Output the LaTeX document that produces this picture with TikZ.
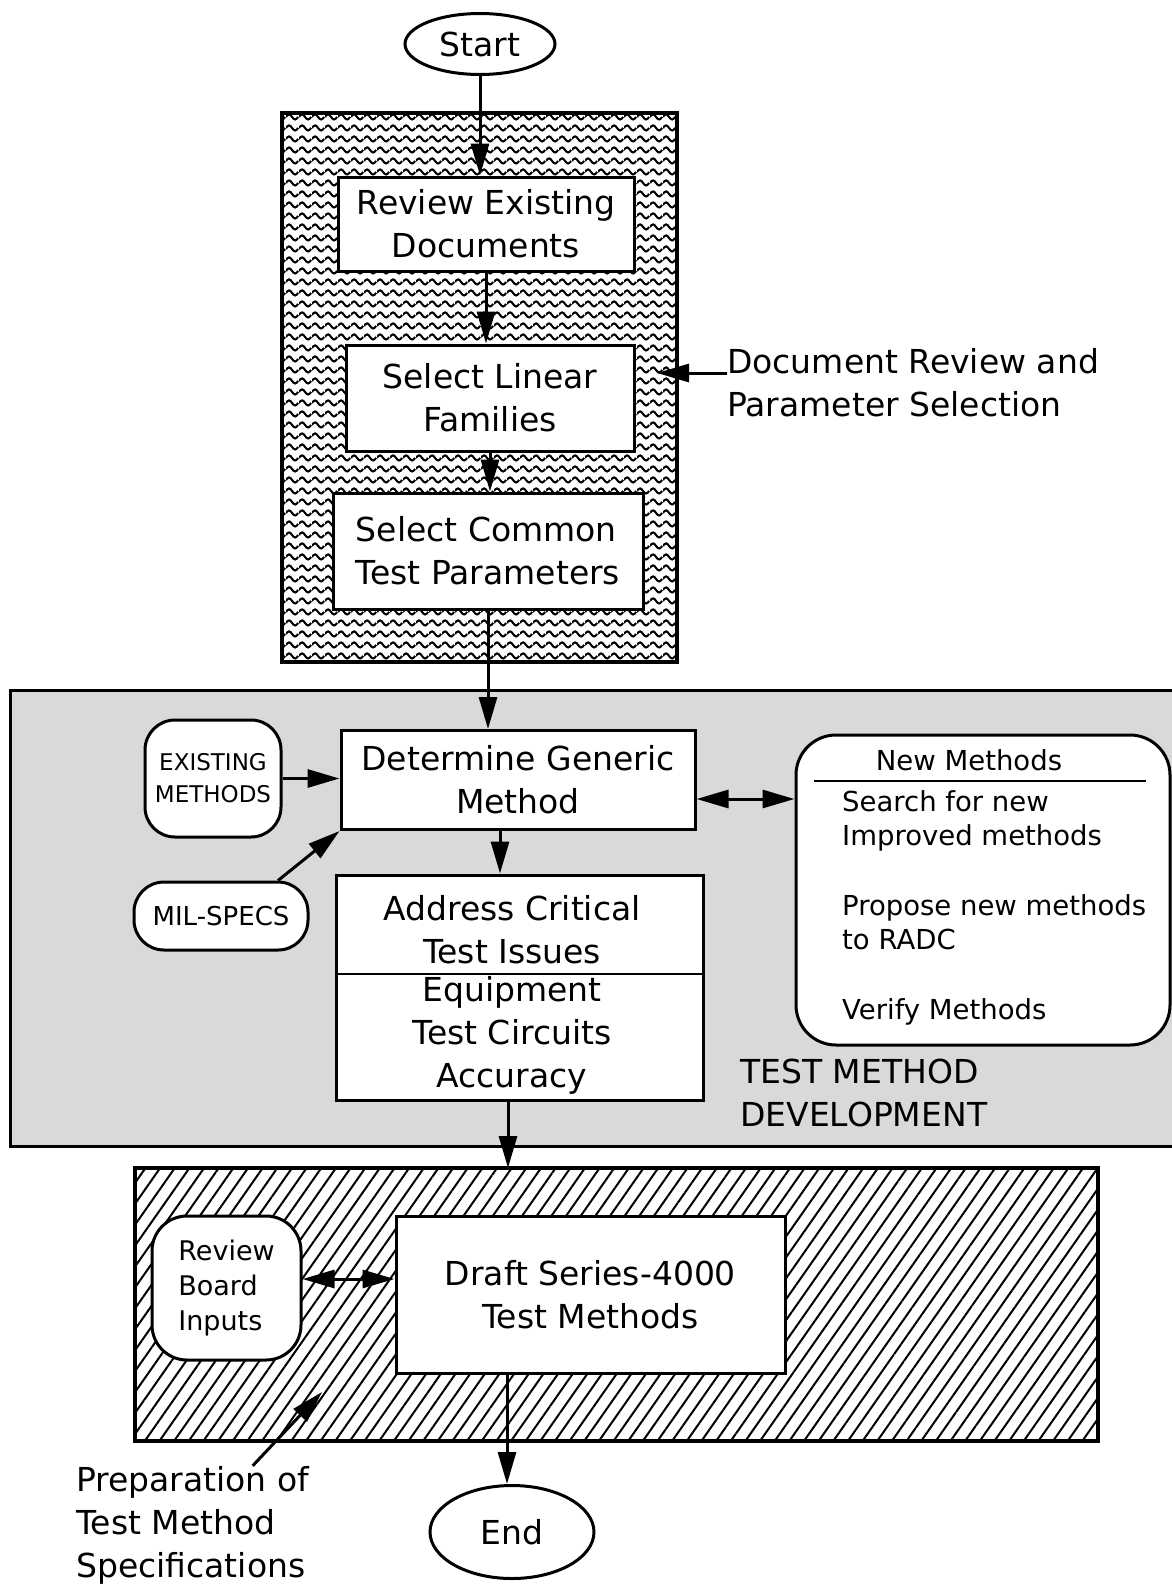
\documentclass[tikz,border=0pt]{standalone}
\usepackage{fontspec}
\setmainfont{DejaVu Sans}
\usetikzlibrary{shapes.geometric,arrows.meta,patterns,patterns.meta}

% wavy fill of the first block
\pgfdeclarepatternformonly{wavy}{\pgfqpoint{0pt}{0pt}}{\pgfqpoint{13pt}{11pt}}{\pgfqpoint{13pt}{11pt}}{%
  \pgfsetlinewidth{2.2pt}%
  \pgfpathmoveto{\pgfqpoint{0pt}{5.5pt}}%
  \pgfpathsine{\pgfqpoint{3.25pt}{2.8pt}}%
  \pgfpathcosine{\pgfqpoint{3.25pt}{-2.8pt}}%
  \pgfpathsine{\pgfqpoint{3.25pt}{-2.8pt}}%
  \pgfpathcosine{\pgfqpoint{3.25pt}{2.8pt}}%
  \pgfusepath{stroke}}

\begin{document}
\begin{tikzpicture}[x=1pt, y=-1pt, >={Triangle[length=32pt,width=18pt]},
	box/.style={draw, fill=white, line width=3pt, inner sep=0pt, align=center, font=\fontsize{33}{43}\selectfont},
	roundbox/.style={box, rounded corners=30pt},
	plain/.style={inner sep=0pt, align=center, font=\fontsize{33}{43}\selectfont},
	flow/.style={->, line width=3pt}]

\useasboundingbox (0,0) rectangle (1172,1585);

			% the three phases
			\draw[line width=4pt, pattern=wavy] (282,113) rectangle (677,662);
			\draw[line width=3pt, fill=black!15] (10,690) rectangle (1185,1146);
			\draw[line width=4pt, pattern={Lines[angle=55,distance=12pt,line width=2pt]}] (135,1168) rectangle (1098,1441);

			\node[box, ellipse, minimum width=150pt, minimum height=61pt] (start) at (480,44) {Start};

			\node[box, minimum width=296pt, minimum height=94pt] (review) at (486,224) {Review Existing\\Documents};
			\node[box, minimum width=288pt, minimum height=106pt] (linear) at (490,398) {Select Linear\\Families};
			\node[box, align=left, minimum width=310pt, minimum height=116pt] (common) at (488,551) {Select Common\\Test Parameters};

			\node[plain, align=left, anchor=west] (docrev) at (727,383) {Document Review and\\Parameter Selection};
			\coordinate (drtip) at (657,373);

			\node[box, minimum width=354pt, minimum height=99pt] (determine) at (518,780) {Determine Generic\\Method};
			\node[roundbox, font=\fontsize{23}{32}\selectfont, minimum width=136pt, minimum height=117pt] (exist) at (213,778.5) {EXISTING\\METHODS};
			\node[roundbox, font=\fontsize{26}{34}\selectfont, minimum width=174pt, minimum height=68pt] (mil) at (221,916) {MIL-SPECS};

			\node[box, minimum width=367pt, minimum height=225pt] (address) at (519.5,987.5) {};
			\node[plain] (issues) at (512,930) {Address Critical\\Test Issues};
			\node[plain] (equip) at (512,1035) {Equipment\\Test Circuits\\Accuracy};
			\draw[line width=2.5pt] (address.west |- 0,974) -- (address.east |- 0,974);

			\node[roundbox, rounded corners=40pt, minimum width=374pt, minimum height=310pt] (newm) at (983,890) {};
			\node[plain, font=\fontsize{27.5}{34}\selectfont] (newhead) at (969,760) {New Methods};
			\draw[line width=2.5pt] (814,781) -- (1146,781);
			\node[plain, align=left, anchor=west, font=\fontsize{27.5}{34}\selectfont] (newlist) at (842,908) {Search for new\\Improved methods\\[36pt]Propose new methods\\to RADC\\[36pt]Verify Methods};

			\node[plain, align=left, anchor=west] (tmd) at (740,1093) {TEST METHOD\\DEVELOPMENT};

			\node[box, minimum width=389pt, minimum height=157pt] (draft) at (590.5,1294.5) {Draft Series-4000\\Test Methods};
			\node[roundbox, rounded corners=35pt, align=left, font=\fontsize{27}{35}\selectfont, minimum width=149pt, minimum height=144pt] (board) at (226.5,1288) {Review\\Board\\Inputs};

			\node[box, ellipse, minimum width=164pt, minimum height=93pt] (end) at (512,1532) {End};

			\node[plain, align=left, anchor=west] (prep) at (76,1525) {Preparation of\\Test Method\\Specifications};
			\coordinate (preptip) at (322,1392);

			% connectors
			\draw[flow] (start.south) -- (start.south |- review.north);
			\draw[flow] (review.south) -- (review.south |- linear.north);
			\draw[flow] (linear.south) -- (linear.south |- common.north);
			\draw[flow] (common.south) -- (common.south |- determine.north);
			\draw[flow] ([yshift=10pt]docrev.west) -- (drtip);

			\draw[flow] (exist.east) -- (exist.east -| determine.west);
			\draw[flow] ([xshift=57pt]mil.north) -- (determine.south west);
			\coordinate (dmid) at ([xshift=-18pt]determine.south);
			\draw[flow] (dmid) -- (dmid |- address.north);
			\coordinate (dnew) at ([yshift=-19pt]determine.east);
			\draw[<->, line width=3pt] (dnew) -- (dnew -| newm.west);

			\coordinate (aout) at ([xshift=-11.5pt]address.south);
			\coordinate (hatchtop) at (aout |- 0,1168);
			\draw[flow] (aout) -- (hatchtop);
			\coordinate (bd) at ([yshift=9pt]board.east);
			\draw[<->, line width=3pt] (bd) -- (bd -| draft.west);
			\coordinate (dout) at ([xshift=-83.5pt]draft.south);
			\draw[flow] (dout) -- (dout |- end.north);
			\draw[flow] ([xshift=60pt]prep.north) -- (preptip);

\end{tikzpicture}
\end{document}
